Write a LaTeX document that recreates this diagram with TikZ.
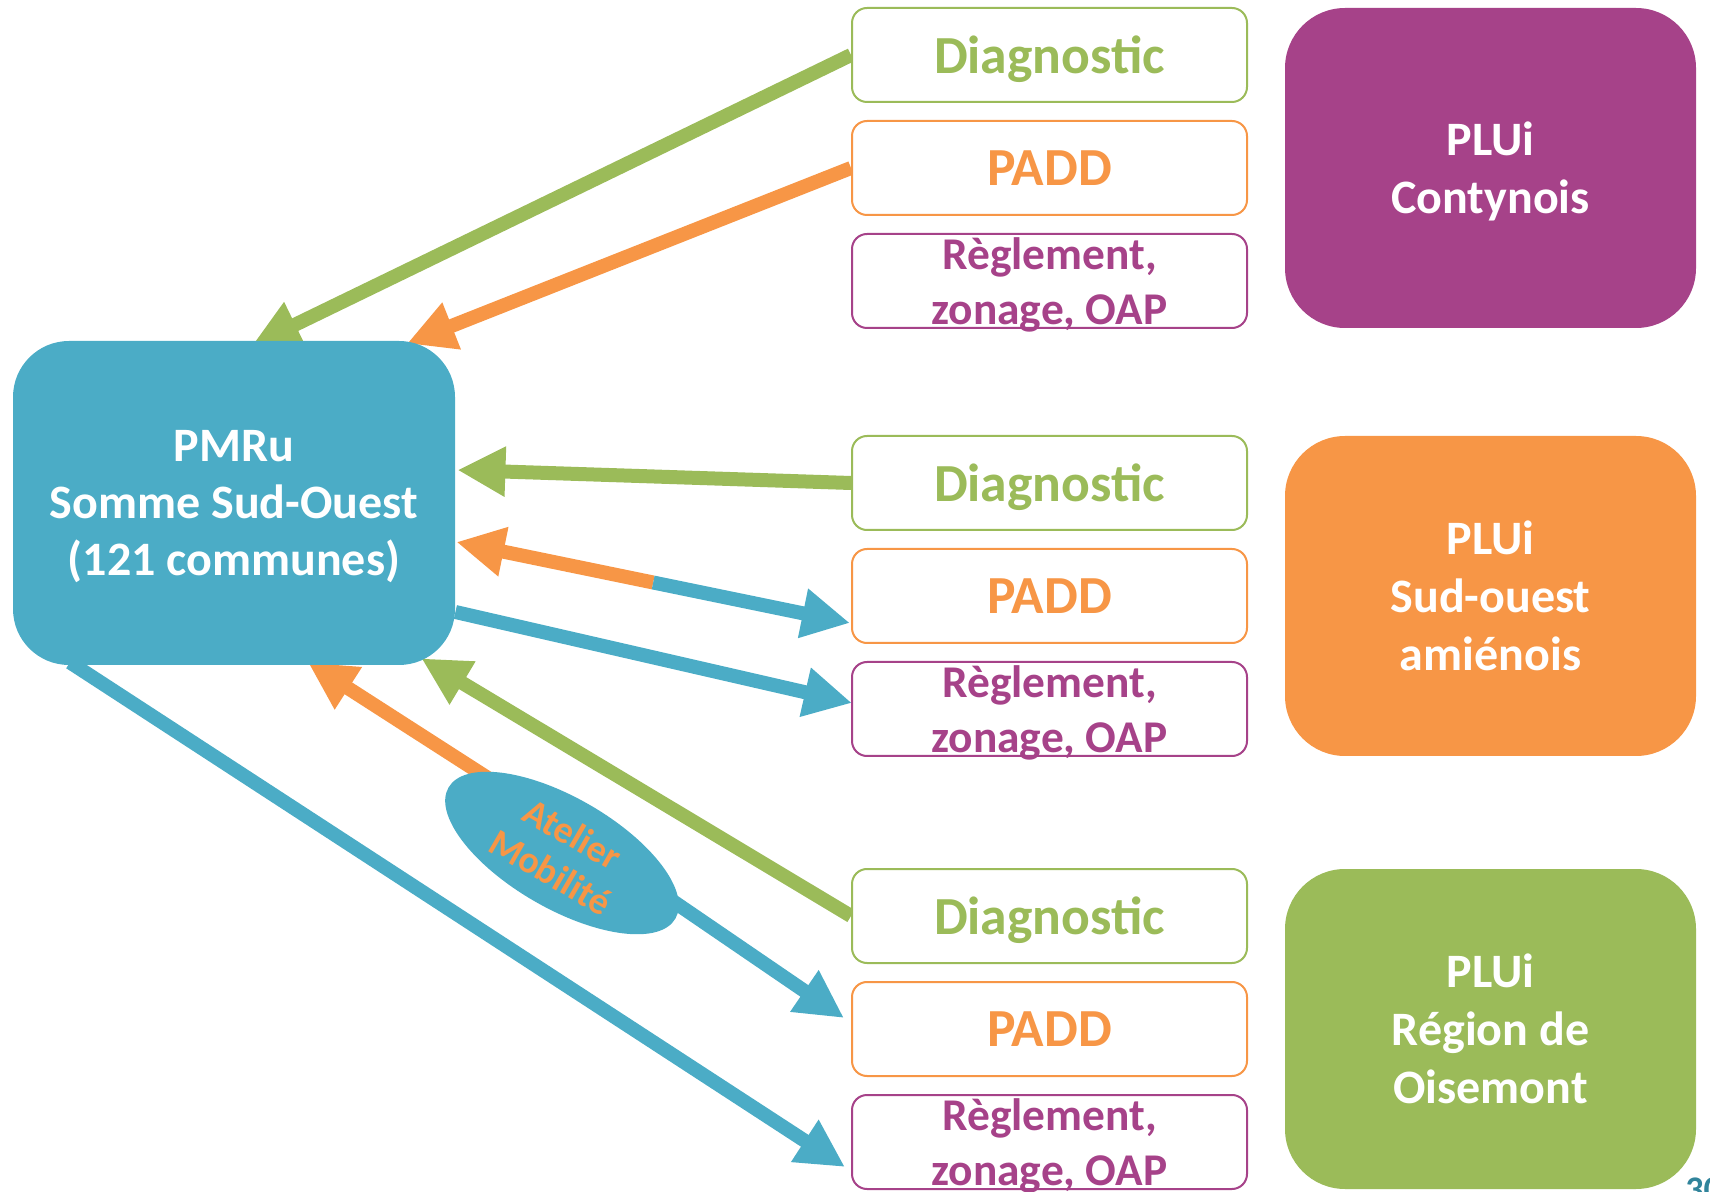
\documentclass[tikz,border=0pt]{standalone}
\usepackage{fontspec}
\setmainfont{Carlito}
\usetikzlibrary{positioning,calc,arrows.meta,backgrounds,shapes.geometric}

\definecolor{pmblue}{HTML}{4BACC6}
\definecolor{pmgreen}{HTML}{9BBB59}
\definecolor{pmorange}{HTML}{F79646}
\definecolor{pmplum}{HTML}{A64289}
\definecolor{pmnum}{HTML}{31849B}

\begin{document}
\begin{tikzpicture}[x=0.5pt,y=-0.5pt,node distance=56.5pt,on grid,
  phase/.style={draw,line width=1pt,rounded corners=7.5pt,fill=white,
    minimum width=197.5pt,minimum height=47pt,inner sep=0pt,text depth=0pt,
    font=\fontsize{26.8}{30}\selectfont\bfseries},
  diagbox/.style={phase,draw=pmgreen,text=pmgreen},
  paddbox/.style={phase,draw=pmorange,text=pmorange},
  reglbox/.style={phase,draw=pmplum,text=pmplum,align=center,
    font=\fontsize{22.7}{27.5}\selectfont\bfseries},
  pluibox/.style={rounded corners=30pt,minimum width=205.5pt,minimum height=160pt,
    text=white,align=center,text depth=0pt,
    font=\fontsize{24}{29}\selectfont\bfseries},
  pmrubox/.style={fill=pmblue,rounded corners=28pt,minimum width=221pt,
    minimum height=162pt,text=white,align=center,text depth=0pt,
    font=\fontsize{24}{28.5}\selectfont\bfseries},
  flow/.style={line width=7pt,-{Triangle[length=24pt,width=23.5pt]}}]
  \useasboundingbox (0,0) rectangle (1710,1192);

  \path
  node[pmrubox] (pmru) at (234,503) {PMRu\\Somme Sud-Ouest\\(121 communes)}

  node[paddbox] (padd1) at (1049.5,168) {PADD}
  node[diagbox] (diag1) [above=of padd1] {Diagnostic}
  node[reglbox] (regl1) [below=of padd1] {Règlement,\\zonage, OAP}
  node[pluibox,fill=pmplum] (plui1) [right=220.5pt of padd1] {PLUi\\Contynois}

  node[paddbox] (padd2) at (1049.5,596) {PADD}
  node[diagbox] (diag2) [above=of padd2] {Diagnostic}
  node[reglbox] (regl2) [below=of padd2] {Règlement,\\zonage, OAP}
  node[pluibox,fill=pmorange] (plui2) [right=220.5pt of padd2] {PLUi\\Sud-ouest\\amiénois}

  node[paddbox] (padd3) at (1049.5,1029) {PADD}
  node[diagbox] (diag3) [above=of padd3] {Diagnostic}
  node[reglbox] (regl3) [below=of padd3] {Règlement,\\zonage, OAP}
  node[pluibox,fill=pmgreen] (plui3) [right=220.5pt of padd3] {PLUi\\Région de\\Oisemont}

  node[ellipse,fill=pmblue,inner sep=0pt,minimum width=131pt,minimum height=55.5pt,
    rotate=-30,text=pmorange,align=center,font=\fontsize{19}{22}\selectfont\bfseries]
    (atelier) at (562,853) {Atelier\\Mobilité}
  node[anchor=north west,inner sep=0pt,text=pmnum,font=\fontsize{18}{18}\selectfont\bfseries]
    (slide) at (1685,1177) {30}
  ;

  \begin{pgfonlayer}{background}
  \draw[flow,pmgreen] (diag1.west) -- ($(pmru.north)+(18,5)$);
  \draw[flow,pmorange] (padd1.west) -- ($(pmru.north)+(173,3)$);
  \draw[flow,pmgreen] (diag2.west) -- ($(pmru.east)+(2,-33)$);

  % PADD: two-way, split half way
  \coordinate (pin) at ($(pmru.east)+(1,39)$);
  \coordinate (pout) at ($(padd2.west)+(-1,27)$);
  \draw[flow,pmorange] ($(pin)!0.5!(pout)$) -- (pin);
  \draw[flow,pmblue] ($(pin)!0.5!(pout)$) -- (pout);

  \draw[flow,pmblue] ($(pmru.east)+(0,109)$) -- ($(regl2.west)+(1,-6)$);
  \draw[flow,pmgreen] (diag3.west) -- ($(pmru.south east)+(-34,-7)$);
  \draw[flow,pmorange] ($(atelier.center)+(-43,-55)$) -- ($(pmru.south)+(74,-3)$);
  \draw[flow,pmblue] ($(atelier.center)+(80,27)$) -- ($(padd3.west)+(-7,-11)$);
  \draw[flow,pmblue] ($(pmru.south)+(-164,-3)$) -- ($(regl3.west)+(-6,25)$);
  \end{pgfonlayer}
\end{tikzpicture}
\end{document}
